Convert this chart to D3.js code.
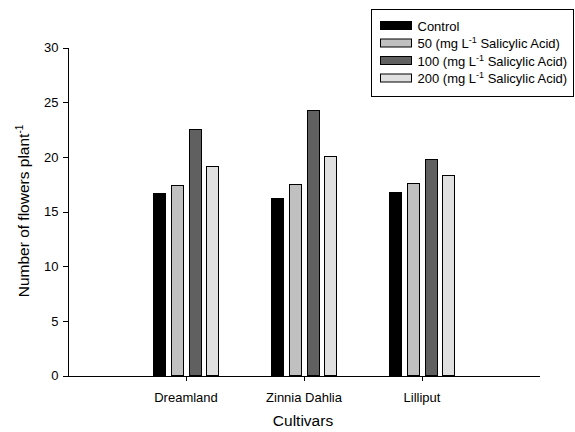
<!DOCTYPE html>
<meta charset="utf-8">
<style>
  body { margin: 0; background: #fff; }
  .axis path, .axis line { fill: none; stroke: black; shape-rendering: crispEdges; }
  .axis text { font-family: "Liberation Sans", Arial, sans-serif; font-size: 13px; fill: black; }
  .lbl { font-family: "Liberation Sans", Arial, sans-serif; fill: black; }
</style>
<div class="chart"></div>
<script src="https://cdn.jsdelivr.net/npm/d3@7"></script>
<script>
  var cultivars = ["Dreamland", "Zinnia Dahlia", "Lilliput"];
  var series = ["Control", "50", "100", "200"];
  var colors = ["#000000", "#c0c0c0", "#606060", "#e0e0e0"];
  var control = [16.65, 16.25, 16.8];
  var sa50 = [17.4, 17.55, 17.65];
  var sa100 = [22.55, 24.3, 19.8];
  var sa200 = [19.2, 20.05, 18.35];
  var yTicks = [0, 5, 10, 15, 20, 25, 30];

  var values = [control, sa50, sa100, sa200];
  var data = [];
  cultivars.forEach((c, i) => {
    series.forEach((s, j) => data.push({ cultivar: c, idx: i, series: s, value: values[j][i] }));
  });

  var width = 575, height = 432;
  var svg = d3.select(".chart").append("svg")
    .attr("width", width).attr("height", height);

  var x = d3.scaleLinear().domain([0, 4]).range([67.5, 539.5]);
  var y = d3.scaleLinear().domain([0, 30]).range([375.5, 47.5]);
  var inner = d3.scaleBand().domain(series).range([-35.4, 35.4])
    .paddingInner(0.35).paddingOuter(0.175);

  svg.selectAll("rect.bar")
    .data(data)
    .enter().append("rect")
    .attr("class", "bar")
    .attr("x", d => Math.round(x(d.idx + 1) + inner(d.series)) + 0.5)
    .attr("y", d => Math.round(y(d.value)) + 0.5)
    .attr("width", Math.round(inner.bandwidth()))
    .attr("height", d => y(0) - Math.round(y(d.value)) - 0.5)
    .attr("fill", (d) => colors[series.indexOf(d.series)])
    .attr("stroke", "black")
    .attr("stroke-width", 1);

  var yAxis = d3.axisLeft(y).tickValues(yTicks).tickSize(5).tickPadding(4).tickSizeOuter(0);
  svg.append("g").attr("class", "y axis")
    .attr("transform", "translate(67.5,0)")
    .call(yAxis);

  var xAxis = d3.axisBottom(x).tickValues([1, 2, 3])
    .tickFormat(d => cultivars[d - 1]).tickSize(5).tickPadding(12).tickSizeOuter(0);
  svg.append("g").attr("class", "x axis")
    .attr("transform", "translate(0," + y(0) + ")")
    .call(xAxis);

  svg.append("text").attr("class", "lbl")
    .attr("x", 303).attr("y", 426)
    .attr("text-anchor", "middle").attr("font-size", 15.5)
    .text("Cultivars");

  var yt = svg.append("text").attr("class", "lbl")
    .attr("transform", "translate(29,211) rotate(-90)")
    .attr("text-anchor", "middle").attr("font-size", 15.5);
  yt.append("tspan").text("Number of flowers plant");
  yt.append("tspan").attr("dy", -6).attr("font-size", 10).text("-1");

  // legend
  var legend = svg.append("g").attr("transform", "translate(371.5,9.5)");
  legend.append("rect").attr("width", 202).attr("height", 87)
    .attr("fill", "white").attr("stroke", "black");
  series.forEach((s, j) => {
    var row = legend.append("g").attr("transform", "translate(9," + (12 + j * 17.5) + ")");
    row.append("rect").attr("width", 31).attr("height", 8)
      .attr("fill", colors[j]).attr("stroke", "black");
    var t = row.append("text").attr("class", "lbl").attr("x", 37).attr("y", 9)
      .attr("font-size", 13);
    if (s === "Control") {
      t.text("Control");
    } else {
      t.append("tspan").text(s + " (mg L");
      t.append("tspan").attr("dy", -5).attr("font-size", 9).text("-1");
      t.append("tspan").attr("dy", 5).text(" Salicylic Acid)");
    }
  });
</script>
